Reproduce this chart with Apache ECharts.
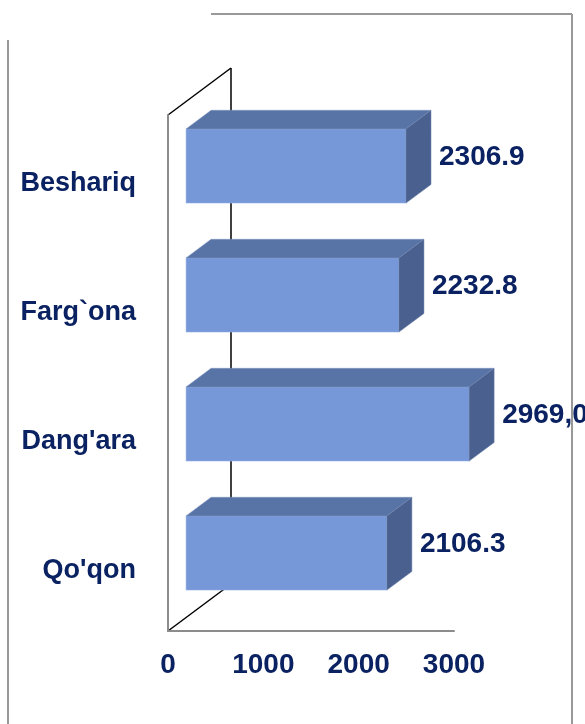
<!DOCTYPE html>
<html>
<head>
<meta charset="utf-8">
<script src="https://cdn.jsdelivr.net/npm/echarts@6/dist/echarts.min.js"></script>
<style>
html,body{margin:0;padding:0;background:#fff;}
#chart{width:585px;height:724px;}
</style>
</head>
<body>
<div id="chart"></div>
<script>
const categories = ["Beshariq", "Farg`ona", "Dang'ara", "Qo'qon"];
const values = [2306.9, 2232.8, 2969.0, 2106.3];
const valueLabels = ["2306.9", "2232.8", "2969,0", "2106.3"];
const axisMin = 0, axisMax = 3000, axisInterval = 1000;

const NAVY = '#0b2262';
const FONT = 'Liberation Sans, Arial, sans-serif';
const GRID = {left: 168, top: 115, right: 131, bottom: 93};
const SLOPE = 0.746;

const chart = echarts.init(document.getElementById('chart'));

function renderItem(params, api) {
  const v = api.value(0);
  const i = api.value(1);
  const p0 = api.coord([0, i]);
  const p1 = api.coord([v, i]);
  const band = api.size([0, 1])[1];
  const h = band * 0.575;
  const off = band * 0.14;
  const d = band * 0.194;
  const dx = d, dy = d * SLOPE;
  const x0 = p0[0] + off, x1 = p1[0] + off;
  const yc = p0[1] - off * SLOPE;
  const yT = yc - h / 2, yB = yc + h / 2;
  return {
    type: 'group',
    children: [
      {type: 'rect', shape: {x: x0, y: yT, width: x1 - x0, height: h},
       style: {fill: '#7698d9', stroke: '#9bb3e6', lineWidth: 0.5}},
      {type: 'polygon', shape: {points: [[x0, yT], [x1, yT], [x1 + dx, yT - dy], [x0 + dx, yT - dy]]},
       style: {fill: '#5874a6', stroke: '#7d93c0', lineWidth: 0.5}},
      {type: 'polygon', shape: {points: [[x1, yT], [x1 + dx, yT - dy], [x1 + dx, yB - dy], [x1, yB]]},
       style: {fill: '#4a6190', stroke: '#6d80aa', lineWidth: 0.5}},
      {type: 'text', style: {x: x1 + dx + 8, y: (yT - dy + yB) / 2 + 1, text: valueLabels[i],
        fill: NAVY, font: 'bold 28px ' + FONT, align: 'left', verticalAlign: 'middle'}}
    ]
  };
}

const fx = GRID.left, fy = 724 - GRID.bottom, wd = 63;
const lineStyleBlack = {stroke: '#000', lineWidth: 1.5};
const lineStyleGray = {stroke: '#999', lineWidth: 2};

chart.setOption({
  animation: false,
  backgroundColor: '#fff',
  grid: GRID,
  xAxis: {
    type: 'value', min: axisMin, max: axisMax, interval: axisInterval,
    splitLine: {show: false}, axisTick: {show: false},
    axisLine: {show: true, lineStyle: {color: '#8c8c8c', width: 2}},
    axisLabel: {color: NAVY, fontSize: 28, fontWeight: 'bold', fontFamily: FONT, margin: 20,
      formatter: v => String(v)}
  },
  yAxis: {
    type: 'category', data: categories, inverse: true,
    axisTick: {show: false},
    axisLine: {show: true, lineStyle: {color: '#8c8c8c', width: 2}},
    axisLabel: {color: NAVY, fontSize: 27, fontWeight: 'bold', fontFamily: FONT, margin: 32, align: 'right',
      formatter: v => '{a|' + v + '}',
      rich: {a: {color: NAVY, fontSize: 27, fontWeight: 'bold', fontFamily: FONT, padding: [8, 0, 0, 0]}}}
  },
  graphic: [
    {type: 'line', z: 0, shape: {x1: fx, y1: fy, x2: fx + wd, y2: fy - wd * SLOPE}, style: lineStyleBlack},
    {type: 'line', z: 0, shape: {x1: fx + wd, y1: fy - wd * SLOPE, x2: fx + wd, y2: GRID.top - wd * SLOPE}, style: lineStyleBlack},
    {type: 'line', z: 0, shape: {x1: fx + wd, y1: GRID.top - wd * SLOPE, x2: fx, y2: GRID.top}, style: lineStyleBlack},
    {type: 'line', shape: {x1: 211, y1: 14, x2: 572, y2: 14}, style: lineStyleGray},
    {type: 'line', shape: {x1: 572, y1: 14, x2: 572, y2: 724}, style: lineStyleGray},
    {type: 'line', shape: {x1: 8, y1: 40, x2: 8, y2: 724}, style: lineStyleGray}
  ],
  series: [{
    type: 'custom',
    renderItem: renderItem,
    encode: {x: 0, y: 1},
    data: values.map((v, i) => [v, i]),
    z: 5
  }]
});
</script>
</body>
</html>
